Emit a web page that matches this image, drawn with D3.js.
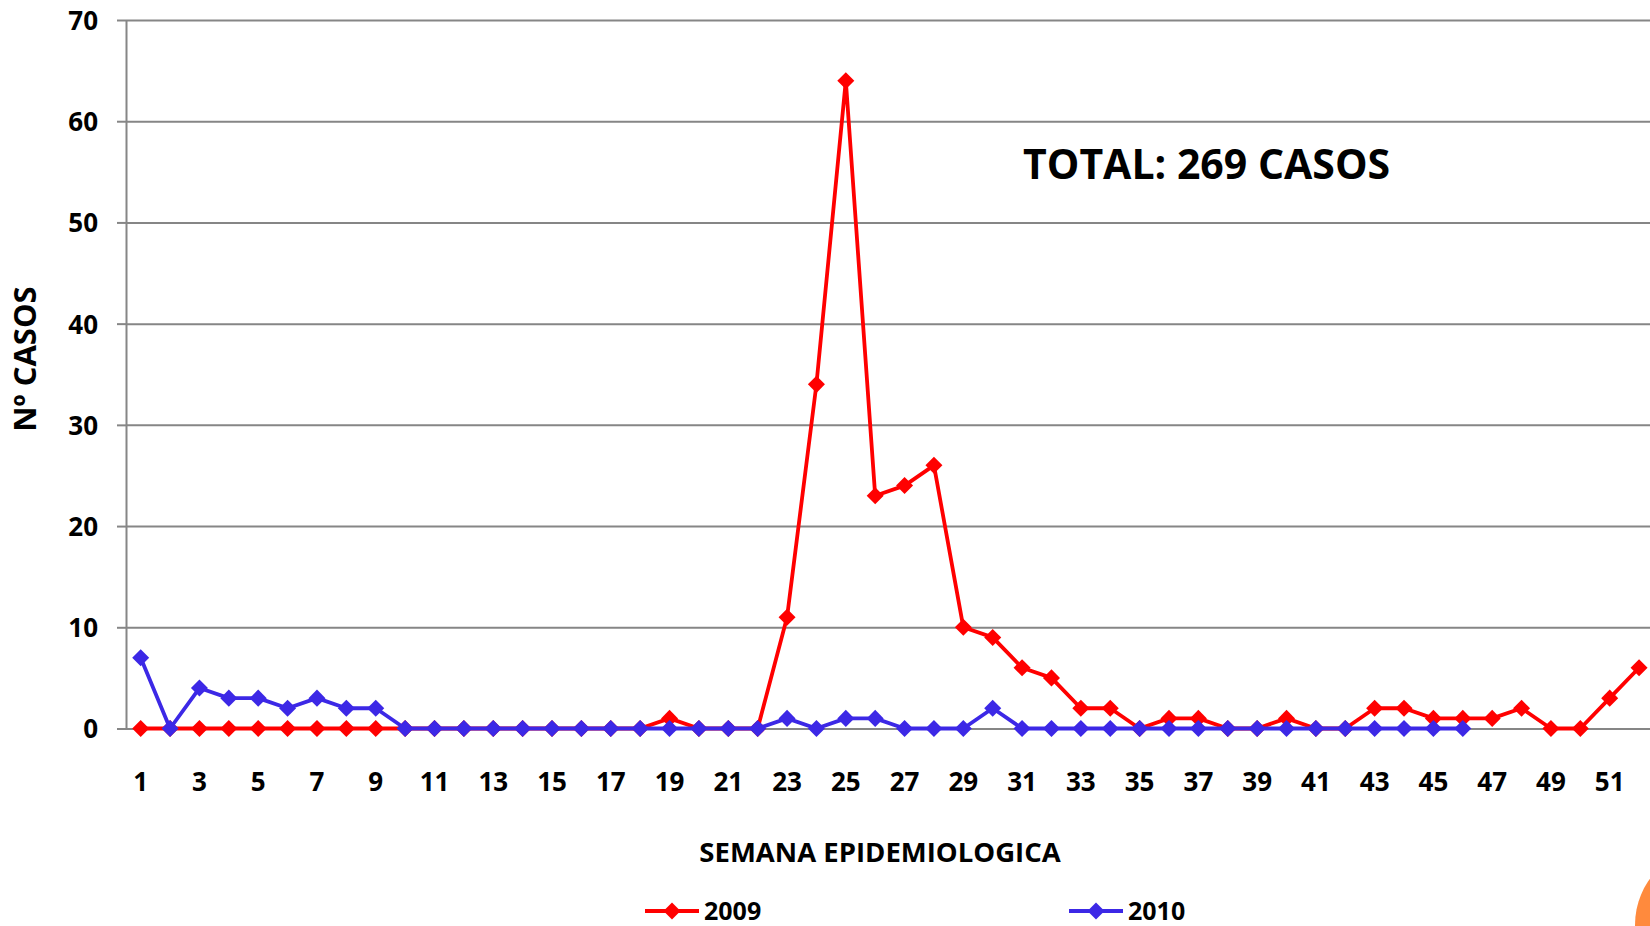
<!DOCTYPE html>
<html>
<head>
<meta charset="utf-8">
<script src="https://cdn.jsdelivr.net/npm/d3@7/dist/d3.min.js"></script>
<style>
  html, body { margin: 0; padding: 0; background: #fff; overflow: hidden; }
  text { font-family: "Open Sans", "Liberation Sans", sans-serif; font-weight: 700; fill: #000; }
</style>
</head>
<body>
<svg id="chart" width="1650" height="926"></svg>
<script>
// ---- data ----
const weeks = d3.range(1, 53);
const series2009 = [0,0,0,0,0,0,0,0,0,0, 0,0,0,0,0,0,0,0,1,0, 0,0,11,34,64,23,24,26,10,9, 6,5,2,2,0,1,1,0,0,1, 0,0,2,2,1,1,1,2,0,0, 3,6];
const series2010 = [7,0,4,3,3,2,3,2,2,0, 0,0,0,0,0,0,0,0,0,0, 0,0,1,0,1,1,0,0,0,2, 0,0,0,0,0,0,0,0,0,0, 0,0,0,0,0,0];
const yTicks = [0,10,20,30,40,50,60,70];
const xTickLabels = d3.range(1, 53, 2);
const seriesNames = ["2009", "2010"];
const seriesColors = ["#ff0000", "#3c28e6"];
const totalLabel = "TOTAL: 269 CASOS";
const xTitle = "SEMANA EPIDEMIOLOGICA";
const yTitle = "Nº CASOS";

(function () {
// ---- layout ----
const svg = d3.select("#chart");
const plotLeft = 126, plotTop = 20, plotBottom = 728.5, bandW = 29.38;
const plotRight = plotLeft + bandW * weeks.length;

const x = d3.scaleBand().domain(weeks).range([plotLeft, plotRight]).paddingInner(0).paddingOuter(0);
const cx = w => x(w) + x.bandwidth() / 2;
const y = d3.scaleLinear().domain([0, 70]).range([plotBottom, plotTop]);

// grid lines
const grid = svg.append("g").attr("transform", `translate(${plotLeft},0)`)
  .call(d3.axisLeft(y).tickValues(yTicks).tickSize(-(plotRight - plotLeft)).tickSizeOuter(0).tickFormat(""));
grid.select(".domain").remove();
grid.selectAll("line").attr("stroke", "#868686").attr("stroke-width", 2);

// y axis with labels
const yAxis = svg.append("g").attr("transform", `translate(${plotLeft},0)`)
  .call(d3.axisLeft(y).tickValues(yTicks).tickSize(9).tickSizeOuter(0).tickPadding(19));
yAxis.select(".domain").attr("stroke", "#868686").attr("stroke-width", 2);
yAxis.selectAll("line").attr("stroke", "#868686").attr("stroke-width", 2);
yAxis.selectAll("text").attr("font-size", 26).attr("font-family", "Open Sans").attr("font-weight", 700).attr("fill", "#000").attr("dy", "0.36em");

// x axis labels
const xAxis = svg.append("g").attr("transform", `translate(0,${plotBottom})`)
  .call(d3.axisBottom(x).tickValues(xTickLabels).tickSize(0).tickPadding(0));
xAxis.select(".domain").remove();
xAxis.selectAll("text").attr("font-size", 26).attr("font-family", "Open Sans").attr("font-weight", 700).attr("fill", "#000").attr("dy", null).attr("y", 62);

// lines
const line = d3.line().x((d, i) => cx(weeks[i])).y(d => y(d));
const diamond = d3.symbol().type(d3.symbolDiamond2).size(185);
[series2009, series2010].forEach((s, k) => {
  const g = svg.append("g");
  g.append("path").datum(s).attr("d", line).attr("fill", "none")
    .attr("stroke", seriesColors[k]).attr("stroke-width", 3.8).attr("stroke-linejoin", "round");
  g.selectAll("path.m").data(s).enter().append("path").attr("class", "m")
    .attr("d", diamond).attr("fill", seriesColors[k])
    .attr("transform", (d, i) => `translate(${cx(weeks[i])},${y(d)})`);
});

// titles
svg.append("text").attr("x", 1023).attr("y", 179).attr("font-size", 41).text(totalLabel);
svg.append("text").attr("x", 880).attr("y", 862).attr("text-anchor", "middle").attr("font-size", 27.5).text(xTitle);
svg.append("text").attr("transform", "translate(36,359) rotate(-90)").attr("text-anchor", "middle").attr("font-size", 31).text(yTitle);

// legend
const legendX = [645, 1069];
seriesNames.forEach((n, k) => {
  const g = svg.append("g").attr("transform", `translate(${legendX[k]},911)`);
  g.append("line").attr("x1", 0).attr("x2", 54).attr("stroke", seriesColors[k]).attr("stroke-width", 3.8);
  g.append("path").attr("d", diamond).attr("fill", seriesColors[k]).attr("transform", "translate(27,0)");
  g.append("text").attr("x", 59).attr("y", 8.5).attr("font-size", 25).text(n);
});

// decorative orange circle (slide template)
svg.append("circle").attr("cx", 1714).attr("cy", 925).attr("r", 79).attr("fill", "#ff8a3d");
})();
</script>
</body>
</html>
